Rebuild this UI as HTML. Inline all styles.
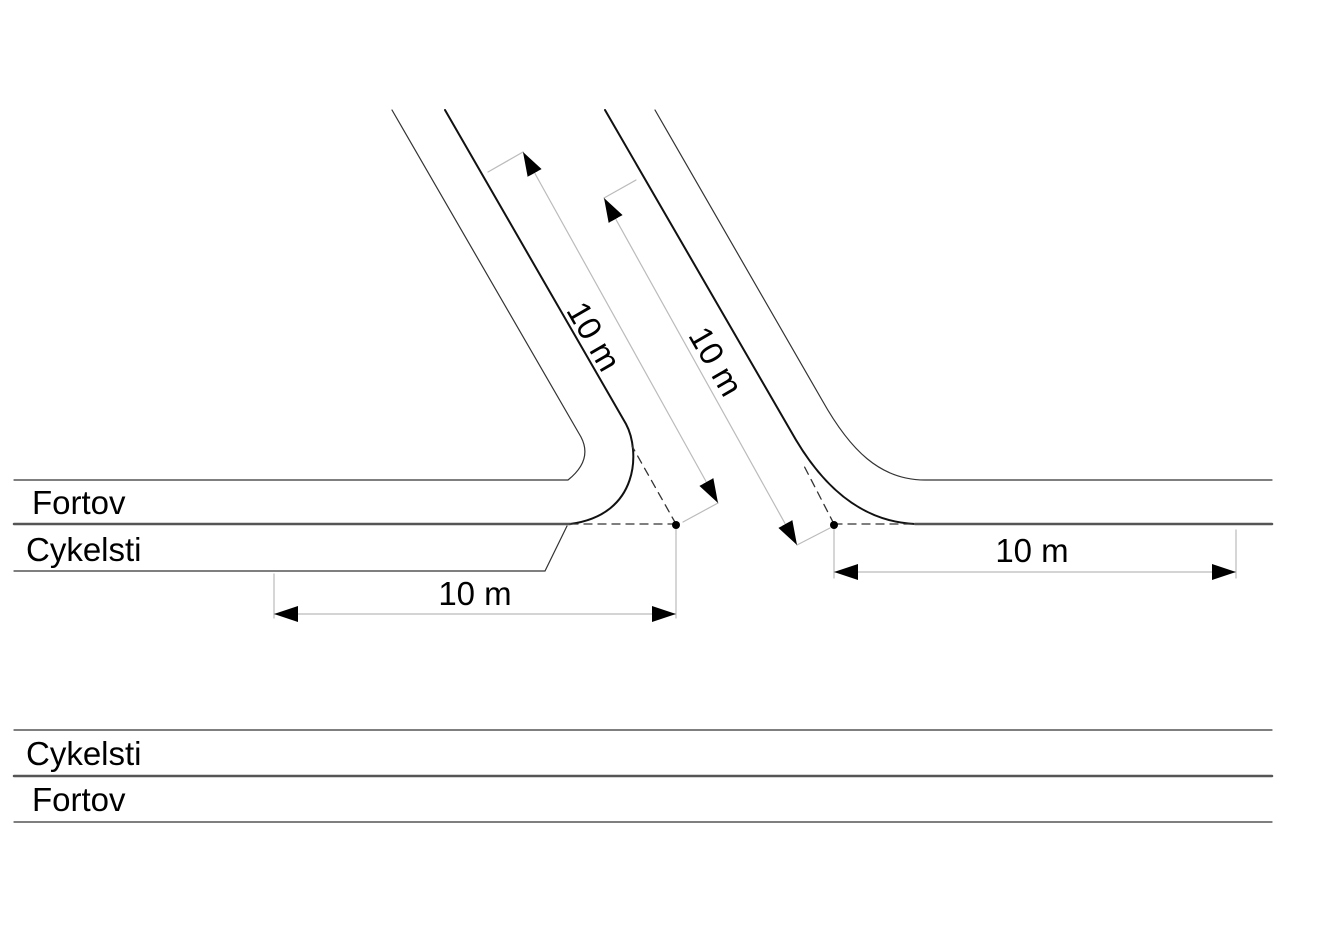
<!DOCTYPE html>
<html><head><meta charset="utf-8"><style>
html,body{margin:0;padding:0;background:#fff;}
svg{display:block;}
text{font-family:"Liberation Sans",sans-serif;fill:#000;}
</style></head><body>
<svg width="1320" height="934" viewBox="0 0 1320 934" xmlns="http://www.w3.org/2000/svg">
<defs>
<marker id="a" viewBox="0 0 24 16" refX="24" refY="8" markerWidth="24" markerHeight="16" markerUnits="userSpaceOnUse" orient="auto-start-reverse">
<path d="M0,0 L24,8 L0,16 Z" fill="#000"/></marker>
</defs>
<g fill="none" stroke-linecap="round">
<path d="M392,110 L581,437 Q593,460 568,480 L14,480" stroke="#333" stroke-width="1.2"/>
<path d="M445,110 L626,424 C640,450 640,515 570,524" stroke="#111" stroke-width="2"/>
<path d="M14,524 L570,524" stroke="#555" stroke-width="2.5"/>
<path d="M14,571 L545,571 L567,526" stroke="#333" stroke-width="1.2"/>
<path d="M605,110 L796,440 C830,497 870,522 915,524" stroke="#111" stroke-width="2"/>
<path d="M915,524 L1272,524" stroke="#555" stroke-width="2.5"/>
<path d="M655,110 L822,400 C850,450 880,480 925,480 L1272,480" stroke="#333" stroke-width="1.2"/>
<path d="M570,524 L676,524 M676,524 L632,446 M834,524 L802,462 M834,524 L915,524" stroke="#333" stroke-width="1.3" stroke-dasharray="8,6"/>
<path d="M14,730 L1272,730 M14,822 L1272,822" stroke="#333" stroke-width="1.2"/>
<path d="M14,776 L1272,776" stroke="#555" stroke-width="2.5"/>
<g stroke="#bbb" stroke-width="1.2">
<path d="M488,172 L523,152 M718,503 L683,522 M636,180 L604,198 M797,545 L830,528 M676,528 L676,618 M274,574 L274,618 M834,528 L834,578 M1236,530 L1236,578"/>
<path d="M523,152 L718,503" marker-start="url(#a)" marker-end="url(#a)"/>
<path d="M604,198 L797,545" marker-start="url(#a)" marker-end="url(#a)"/>
<path d="M274,614 L676,614" marker-start="url(#a)" marker-end="url(#a)"/>
<path d="M834,572 L1236,572" marker-start="url(#a)" marker-end="url(#a)"/>
</g>
</g>
<circle cx="676" cy="525" r="4" fill="#000"/>
<circle cx="834" cy="525" r="4" fill="#000"/>
<g font-size="33">
<text x="32" y="514">Fortov</text>
<text x="26" y="561">Cykelsti</text>
<text x="26" y="765">Cykelsti</text>
<text x="32" y="811">Fortov</text>
<text x="475" y="605" text-anchor="middle">10 m</text>
<text x="1032" y="562" text-anchor="middle">10 m</text>
<text x="0" y="0" text-anchor="middle" transform="translate(584,342) rotate(60)">10 m</text>
<text x="0" y="0" text-anchor="middle" transform="translate(706,367) rotate(60)">10 m</text>
</g>
</svg>
</body></html>
